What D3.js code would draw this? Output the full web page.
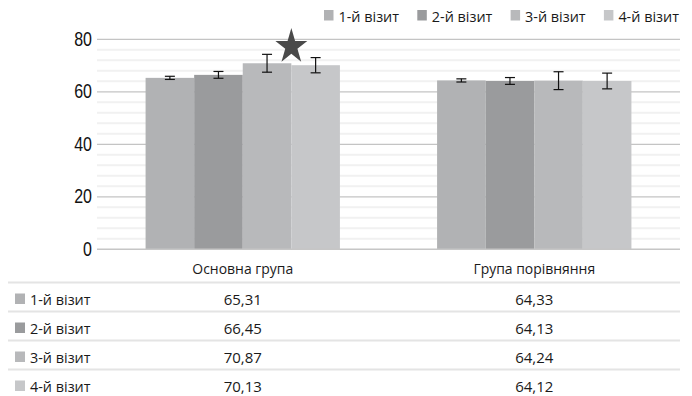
<!DOCTYPE html>
<html>
<head>
<meta charset="utf-8">
<script src="https://cdn.jsdelivr.net/npm/d3@7"></script>
<style>
  html, body { margin: 0; padding: 0; background: #fff; }
  svg { display: block; }
</style>
</head>
<body>
<svg id="chart" width="692" height="396"></svg>
<script>
// Mean values by visit for each group, with error bar half-widths
const categories = ["Основна група", "Група порівняння"];
const seriesNames = ["1-й візит", "2-й візит", "3-й візит", "4-й візит"];
const visit1 = [65.31, 64.33];
const visit2 = [66.45, 64.13];
const visit3 = [70.87, 64.24];
const visit4 = [70.13, 64.12];
const err1 = [0.6, 0.6];
const err2 = [1.3, 1.3];
const err3 = [3.4, 3.4];
const err4 = [2.9, 3.0];
const yTicks = [0, 20, 40, 60, 80];
// Significant change marker: group index and the visit it sits after
const starGroup = 0;
const starAfterSeries = 2;

const seriesValues = [visit1, visit2, visit3, visit4];
const seriesErrors = [err1, err2, err3, err4];
const colors = ["#b1b2b4", "#9a9b9d", "#b8b9bb", "#c6c7c9"];

const svg = d3.select("#chart");
const plot = { left: 97, right: 680, top: 39.3, bottom: 249.3 };

const y = d3.scaleLinear().domain([0, 80]).range([plot.bottom, plot.top]);
const x0 = d3.scaleBand().domain(categories).range([plot.left, plot.right]).padding(0);
const x1 = d3.scaleBand().domain(d3.range(seriesNames.length))
  .range([0, x0.bandwidth()]).paddingInner(0).paddingOuter(1);

// Text helper with optional horizontal squeeze
function ctext(sel, x, yPos, str, opts) {
  const g = sel.append("g").attr("transform", `translate(${x},${yPos}) scale(${opts.sx},1)`);
  g.append("text")
    .attr("text-anchor", opts.anchor || "start")
    .attr("dominant-baseline", "central")
    .attr("font-family", opts.family)
    .attr("font-size", opts.size)
    .attr("fill", opts.fill || "#1a1a1a")
    .text(str);
  return g;
}

// Minor gridlines every 4 units
const minor = d3.range(0, 81, 4).filter(v => v % 20 !== 0);
svg.append("g").selectAll("line").data(minor).join("line")
  .attr("x1", plot.left).attr("x2", plot.right)
  .attr("y1", d => y(d)).attr("y2", d => y(d))
  .attr("stroke", "#f1f1f1").attr("stroke-width", 2);

// Major gridlines
svg.append("g").selectAll("line").data(yTicks.filter(v => v > 0)).join("line")
  .attr("x1", plot.left).attr("x2", plot.right)
  .attr("y1", d => y(d)).attr("y2", d => y(d))
  .attr("stroke", "#c4c4c4").attr("stroke-width", 1.2);

// Y tick labels
const yAxisG = svg.append("g");
yTicks.forEach(t => {
  ctext(yAxisG, 92, y(t), String(t), { sx: 0.82, size: 19.5, family: "Liberation Sans", anchor: "end", fill: "#111" });
});

// Bars
const groups = svg.append("g").selectAll("g").data(categories).join("g")
  .attr("transform", d => `translate(${x0(d)},0)`);

groups.each(function(cat, ci) {
  const g = d3.select(this);
  seriesNames.forEach((s, si) => {
    const v = seriesValues[si][ci];
    g.append("rect")
      .attr("x", x1(si)).attr("width", x1.bandwidth())
      .attr("y", y(v)).attr("height", y(0) - y(v))
      .attr("fill", colors[si]);
  });
  // Error bars
  seriesNames.forEach((s, si) => {
    const v = seriesValues[si][ci];
    const e = seriesErrors[si][ci];
    const cx = x1(si) + x1.bandwidth() / 2;
    const eb = g.append("g").attr("stroke", "#111").attr("stroke-width", 1.2);
    eb.append("line").attr("x1", cx).attr("x2", cx).attr("y1", y(v + e)).attr("y2", y(v - e));
    eb.append("line").attr("x1", cx - 5).attr("x2", cx + 5).attr("y1", y(v + e)).attr("y2", y(v + e));
    eb.append("line").attr("x1", cx - 5).attr("x2", cx + 5).attr("y1", y(v - e)).attr("y2", y(v - e));
  });
});

// Baseline
svg.append("line")
  .attr("x1", plot.left).attr("x2", plot.right)
  .attr("y1", y(0)).attr("y2", y(0))
  .attr("stroke", "#c6c6c6").attr("stroke-width", 1.5);

// Star marker
const starX = x0(categories[starGroup]) + x1(starAfterSeries) + x1.bandwidth();
const starY = y(77.2);
svg.append("path")
  .attr("d", d3.symbol(d3.symbolStar, 390)())
  .attr("transform", `translate(${starX},${starY}) scale(0.9,1)`)
  .attr("fill", "#4a4a4a");

// Category labels
const textFamily = "Open Sans";
categories.forEach(c => {
  ctext(svg, x0(c) + x0.bandwidth() / 2, 268, c, { sx: 0.93, size: 15, family: textFamily, anchor: "middle" });
});

// Data table
const lineY0 = 282.5, rowStep = 29;
const fmt = v => d3.format(".2f")(v).replace(".", ",");
seriesNames.forEach((s, si) => {
  const ly = lineY0 + si * rowStep;
  const ry = ly + 16;
  svg.append("line")
    .attr("x1", 8).attr("x2", plot.right)
    .attr("y1", ly).attr("y2", ly)
    .attr("stroke", "#e4e4e4").attr("stroke-width", 2);
  svg.append("rect").attr("x", 15).attr("y", ry - 5).attr("width", 10).attr("height", 10.5).attr("fill", colors[si]);
  ctext(svg, 30, ry, s, { sx: 0.96, size: 15, family: textFamily, anchor: "start" });
  categories.forEach((c, ci) => {
    ctext(svg, x0(c) + x0.bandwidth() / 2, ry, fmt(seriesValues[si][ci]), { sx: 1, size: 15, family: textFamily, anchor: "middle" });
  });
});

// Legend
const legend = svg.append("g");
seriesNames.forEach((s, si) => {
  const lx = 324 + si * 93.3;
  legend.append("rect").attr("x", lx).attr("y", 10).attr("width", 9.5).attr("height", 10.5).attr("fill", colors[si]);
  ctext(legend, lx + 14.5, 16, s, { sx: 0.96, size: 15, family: textFamily, anchor: "start" });
});
</script>
</body>
</html>
